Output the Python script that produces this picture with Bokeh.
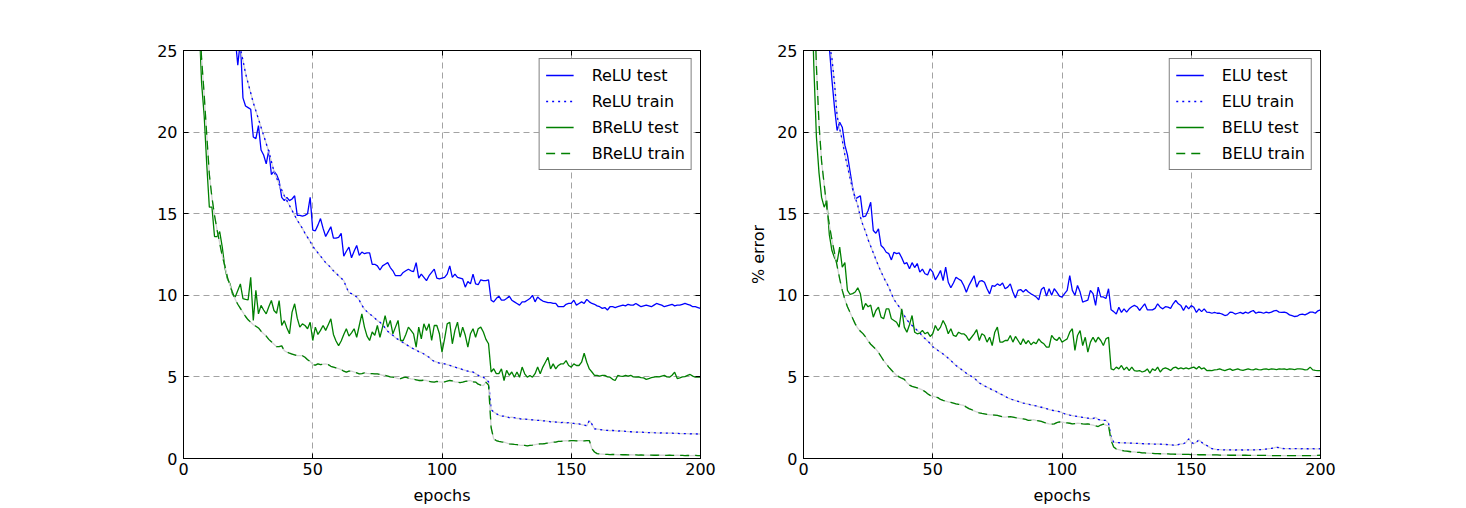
from bokeh.plotting import figure
from bokeh.layouts import row
from bokeh.models import (Range1d, FixedTicker, LinearAxis, Legend, LegendItem,
                          CustomJSTickFormatter)
from bokeh.embed import file_html
from bokeh.resources import INLINE

epochs = list(range(1, 201))
x_ticks = [0, 50, 100, 150, 200]
y_ticks = [0, 5, 10, 15, 20, 25]

relu_test = [
    80, 65, 55, 48, 44, 40, 38, 36, 34, 33,
    32, 31, 30, 29.5, 29, 28.5, 28, 27, 26.5, 25.8,
    24.1, 25.6, 22.1, 21.6, 21.5, 21.4, 19.7, 19.6, 20.4, 18.9,
    18.6, 18.05, 18.9, 17.4, 17.6, 17.4, 17.0, 16.0, 15.8, 16.0,
    15.8, 15.9, 16.1, 14.9, 14.9, 14.85, 14.9, 15.0, 16.0, 14.0,
    13.95, 14.3, 14.7, 14.1, 13.6, 13.9, 14.2, 13.5, 13.5, 13.55,
    13.8, 12.4, 12.7, 12.95, 12.3, 12.7, 13.05, 12.45, 12.65, 12.55,
    12.6, 12.6, 11.9, 11.9, 11.8, 11.55, 11.8, 11.9, 12.0, 11.7,
    11.5, 11.2, 11.2, 11.2, 11.4, 11.5, 11.6, 11.5, 11.45, 12.0,
    11.05, 11.3, 11.1, 10.9, 11.2, 11.4, 11.6, 11.05, 11.0, 11.05,
    11.1, 11.3, 11.8, 11.1, 11.3, 11.1, 11.05, 11.0, 10.5, 10.85,
    10.7, 11.3, 10.7, 10.65, 10.95, 10.9, 10.9, 10.95, 9.7, 9.6,
    9.8, 9.95, 9.7, 9.7, 9.8, 9.95, 9.7, 9.6, 9.5, 9.4,
    9.6, 9.6, 9.7, 9.8, 10.0, 9.6, 9.9, 9.75, 9.65, 9.6,
    9.55, 9.55, 9.5, 9.5, 9.3, 9.3, 9.3, 9.45, 9.5, 9.5,
    9.7, 9.4, 9.5, 9.6, 9.5, 9.75, 9.6, 9.5, 9.45, 9.35,
    9.3, 9.2, 9.25, 9.1, 9.3, 9.3, 9.25, 9.3, 9.35, 9.4,
    9.35, 9.45, 9.4, 9.4, 9.5, 9.4, 9.3, 9.35, 9.4, 9.35,
    9.3, 9.4, 9.5, 9.45, 9.4, 9.3, 9.35, 9.4, 9.45, 9.35,
    9.4, 9.4, 9.45, 9.5, 9.45, 9.4, 9.3, 9.3, 9.25, 9.2,
]

relu_train = [
    85, 70, 60, 53, 48, 44, 41, 38.5, 36.5, 35,
    33.5, 32.3, 31.2, 30.2, 29.3, 28.5, 27.8, 27.1, 26.5, 25.9,
    25.5, 25.1, 24.4, 23.6, 23.0, 22.4, 21.8, 21.3, 20.8, 20.3,
    19.8, 19.3, 18.8, 18.2, 17.6, 17.2, 16.8, 16.45, 16.1, 15.8,
    15.5, 15.2, 14.9, 14.6, 14.35, 14.1, 13.8, 13.55, 13.3, 13.0,
    12.8, 12.6, 12.4, 12.2, 12.0, 11.85, 11.7, 11.5, 11.35, 11.2,
    11.05, 10.9, 10.5, 10.15, 10.1, 10.0, 9.9, 9.7, 9.4, 9.15,
    9.0, 8.85, 8.75, 8.6, 8.45, 8.35, 8.2, 8.0, 7.8, 7.65,
    7.55, 7.4, 7.3, 7.2, 7.1, 7.0, 6.9, 6.8, 6.72, 6.65,
    6.55, 6.5, 6.4, 6.3, 6.2, 6.05, 5.95, 5.9, 5.85, 5.85,
    5.8, 5.75, 5.7, 5.65, 5.6, 5.55, 5.5, 5.45, 5.4, 5.35,
    5.3, 5.3, 5.2, 5.1, 5.0, 4.98, 4.85, 4.7, 3.0, 2.85,
    2.75, 2.65, 2.6, 2.6, 2.55, 2.5, 2.53, 2.5, 2.45, 2.45,
    2.4, 2.42, 2.4, 2.38, 2.37, 2.35, 2.33, 2.35, 2.3, 2.3,
    2.28, 2.25, 2.27, 2.23, 2.22, 2.2, 2.22, 2.18, 2.2, 2.15,
    2.15, 2.12, 2.12, 2.08, 2.05, 2.0, 2.33, 2.1, 1.82, 1.8,
    1.78, 1.75, 1.72, 1.72, 1.7, 1.72, 1.7, 1.68, 1.7, 1.68,
    1.66, 1.65, 1.64, 1.63, 1.62, 1.61, 1.62, 1.6, 1.6, 1.58,
    1.6, 1.58, 1.57, 1.56, 1.57, 1.55, 1.56, 1.55, 1.55, 1.54,
    1.55, 1.53, 1.53, 1.52, 1.52, 1.51, 1.52, 1.51, 1.5, 1.5,
]

brelu_test = [
    75, 55, 45, 38, 32, 27, 23.0, 21.0, 18.0, 15.4,
    15.4, 13.6, 13.6, 13.9, 12.95, 11.7, 11.0, 10.7, 10.05, 9.9,
    10.3, 10.7, 9.8, 9.75, 9.72, 11.1, 8.46, 10.3, 8.86, 9.38,
    9.1, 8.86, 9.3, 9.68, 9.07, 8.9, 9.68, 8.15, 8.45, 8.0,
    7.64, 8.97, 9.48, 8.6, 8.05, 8.25, 8.15, 7.95, 8.35, 7.23,
    8.05, 7.6, 7.85, 8.15, 7.85, 8.2, 8.56, 7.6, 7.2, 6.92,
    7.2, 7.6, 7.95, 7.5, 7.7, 7.95, 7.43, 8.15, 8.86, 8.05,
    7.5, 7.23, 7.75, 7.55, 8.15, 7.43, 8.05, 8.76, 8.05, 8.46,
    7.64, 8.05, 8.46, 7.23, 7.23, 7.6, 8.05, 7.85, 7.64, 6.82,
    8.05, 7.33, 8.25, 7.85, 8.25, 7.23, 8.15, 8.15, 7.64, 6.52,
    7.33, 8.25, 8.35, 7.03, 7.85, 8.35, 7.43, 8.05, 7.55, 6.82,
    7.64, 7.95, 7.43, 7.95, 8.05, 7.75, 7.3, 7.03, 5.3, 5.5,
    5.2, 5.2, 5.49, 4.78, 5.4, 5.1, 5.3, 4.98, 5.3, 4.98,
    5.6, 5.19, 4.98, 5.09, 4.98, 5.2, 5.6, 5.19, 5.6, 5.9,
    6.2, 5.49, 5.8, 5.49, 5.7, 5.8, 5.8, 6.0, 5.7, 5.6,
    5.8, 5.7, 5.7, 5.9, 6.45, 5.9, 5.49, 5.3, 5.09, 5.09,
    5.05, 5.09, 5.09, 5.0, 4.98, 4.85, 4.78, 5.09, 5.05, 5.03,
    5.09, 5.05, 5.1, 5.0, 4.98, 5.0, 4.95, 4.94, 4.85, 4.9,
    4.95, 4.98, 5.02, 5.0, 5.05, 5.09, 5.0, 4.98, 5.1, 5.29,
    4.9, 4.94, 5.0, 5.02, 5.09, 5.15, 5.05, 4.98, 5.0, 4.98,
]

brelu_train = [
    70, 52, 42, 36, 31, 27.5, 24.5, 22.3, 19.8, 17.4,
    16.0, 14.9, 14.0, 13.2, 12.4, 11.8, 11.1, 10.6, 10.15, 9.75,
    9.45, 9.2, 8.95, 8.7, 8.5, 8.35, 8.2, 8.1, 8.0, 7.8,
    7.64, 7.5, 7.3, 7.15, 7.0, 6.85, 6.85, 6.9, 6.6, 6.52,
    6.45, 6.4, 6.35, 6.3, 6.3, 6.3, 6.2, 6.05, 5.95, 5.75,
    5.72, 5.8, 5.75, 5.78, 5.8, 5.75, 5.65, 5.6, 5.55, 5.5,
    5.45, 5.35, 5.29, 5.35, 5.35, 5.3, 5.25, 5.19, 5.2, 5.25,
    5.22, 5.2, 5.2, 5.19, 5.19, 5.15, 5.1, 5.09, 5.05, 5.0,
    4.98, 4.95, 4.9, 4.9, 4.95, 4.98, 4.92, 4.88, 4.86, 4.82,
    4.78, 4.78, 4.8, 4.78, 4.72, 4.7, 4.68, 4.72, 4.7, 4.68,
    4.7, 4.74, 4.78, 4.75, 4.7, 4.68, 4.65, 4.68, 4.72, 4.75,
    4.78, 4.7, 4.68, 4.55, 4.5, 4.47, 4.68, 4.5, 1.9, 1.2,
    1.1, 1.05, 1.02, 1.0, 0.95, 0.9, 0.88, 0.86, 0.85, 0.82,
    0.8, 0.8, 0.78, 0.8, 0.82, 0.85, 0.88, 0.9, 0.9, 0.92,
    0.95, 0.97, 1.0, 1.0, 1.05, 1.05, 1.08, 1.1, 1.08, 1.1,
    1.1, 1.08, 1.1, 1.1, 1.08, 1.1, 1.1, 0.6, 0.4, 0.3,
    0.28, 0.27, 0.25, 0.25, 0.24, 0.25, 0.24, 0.23, 0.24, 0.23,
    0.23, 0.22, 0.23, 0.22, 0.22, 0.21, 0.22, 0.21, 0.21, 0.2,
    0.21, 0.2, 0.2, 0.21, 0.2, 0.2, 0.19, 0.2, 0.19, 0.19,
    0.2, 0.19, 0.19, 0.18, 0.19, 0.18, 0.18, 0.19, 0.18, 0.18,
]

elu_test = [
    65, 52, 44, 39, 35, 32, 30, 28, 26.5, 25.2,
    23.2, 21.5, 20.1, 20.6, 20.3, 19.2, 18.6, 17.6, 16.6, 15.9,
    16.0, 16.1, 14.8, 14.85, 15.2, 15.7, 13.97, 13.8, 14.07, 13.05,
    12.9, 12.64, 12.55, 12.17, 12.64, 12.55, 12.6, 12.3, 11.93, 12.0,
    11.62, 12.0, 11.7, 11.95, 11.42, 11.6, 11.32, 11.25, 11.62, 11.42,
    10.95, 11.2, 11.52, 10.9, 11.72, 10.8, 10.46, 10.75, 11.11, 11.0,
    10.9, 10.6, 10.19, 10.6, 10.9, 11.2, 10.5, 10.85, 10.9, 10.8,
    10.4, 10.09, 10.6, 10.55, 10.7, 10.6, 10.75, 10.4, 10.5, 10.7,
    10.2, 9.84, 10.3, 10.35, 10.2, 10.35, 10.2, 10.09, 10.0, 9.9,
    9.72, 10.35, 10.5, 9.95, 10.4, 10.0, 10.4, 10.2, 9.95, 9.89,
    10.1, 10.3, 11.2, 10.3, 10.0, 10.6, 10.2, 9.58, 9.65, 9.7,
    10.3, 10.1, 9.38, 10.5, 9.9, 9.9, 9.8, 10.4, 9.11, 9.0,
    8.86, 9.27, 8.95, 9.17, 8.97, 9.17, 9.3, 9.38, 9.3, 9.07,
    9.27, 9.48, 9.11, 9.11, 9.11, 9.2, 9.48, 9.27, 9.17, 9.3,
    9.27, 9.2, 9.48, 9.68, 9.48, 9.37, 9.07, 9.37, 9.17, 9.37,
    9.27, 8.95, 9.17, 9.0, 9.17, 8.97, 8.95, 8.9, 8.95, 8.9,
    8.9, 8.85, 8.76, 8.8, 8.97, 8.95, 8.85, 8.9, 8.95, 8.88,
    8.97, 8.9, 9.0, 9.07, 8.9, 8.97, 8.95, 8.9, 8.97, 8.92,
    8.97, 9.05, 9.07, 8.97, 8.95, 8.97, 8.92, 8.8, 8.75, 8.7,
    8.72, 8.82, 8.85, 8.8, 8.88, 8.97, 8.97, 8.9, 9.05, 9.11,
]

elu_train = [
    80, 62, 50, 43, 38, 34, 31, 28.8, 26.8, 25.4,
    24.5, 23.0, 21.0, 20.2, 19.5, 18.6, 17.9, 17.2, 16.5, 16.0,
    15.5, 14.8, 14.3, 13.9, 13.4, 13.0, 12.6, 12.2, 11.8, 11.45,
    11.1, 10.8, 10.5, 10.1, 9.75, 9.5, 9.3, 9.05, 8.75, 8.5,
    8.3, 8.15, 8.0, 7.85, 7.7, 7.5, 7.35, 7.2, 7.05, 6.85,
    6.75, 6.62, 6.52, 6.4, 6.28, 6.15, 6.0, 5.85, 5.7, 5.58,
    5.47, 5.35, 5.22, 5.12, 5.03, 4.95, 4.78, 4.62, 4.55, 4.45,
    4.37, 4.3, 4.2, 4.15, 4.05, 3.96, 3.9, 3.8, 3.72, 3.65,
    3.6, 3.55, 3.5, 3.45, 3.4, 3.36, 3.33, 3.28, 3.25, 3.22,
    3.17, 3.14, 3.1, 3.05, 3.0, 2.96, 2.93, 2.9, 2.87, 2.82,
    2.74, 2.7, 2.66, 2.63, 2.6, 2.57, 2.55, 2.52, 2.5, 2.47,
    2.43, 2.45, 2.52, 2.4, 2.35, 2.33, 2.33, 2.15, 1.3, 1.0,
    0.98, 0.97, 0.96, 0.96, 0.95, 0.95, 0.94, 0.93, 0.93, 0.92,
    0.91, 0.9, 0.9, 0.9, 0.89, 0.88, 0.9, 0.88, 0.87, 0.86,
    0.85, 0.84, 0.82, 0.8, 0.85, 0.9, 0.9, 1.0, 1.2, 1.0,
    0.9, 1.0, 1.14, 1.0, 0.85, 0.8, 0.7, 0.6, 0.58, 0.55,
    0.54, 0.53, 0.53, 0.52, 0.53, 0.53, 0.52, 0.53, 0.53, 0.52,
    0.53, 0.53, 0.52, 0.53, 0.53, 0.54, 0.55, 0.56, 0.58, 0.6,
    0.62, 0.65, 0.69, 0.66, 0.62, 0.6, 0.6, 0.6, 0.59, 0.6,
    0.6, 0.59, 0.6, 0.59, 0.6, 0.59, 0.6, 0.59, 0.59, 0.6,
]

belu_test = [
    60, 40, 30, 24.0, 19.7, 17.5, 16.0, 15.4, 15.8, 13.7,
    12.74, 12.3, 12.03, 12.95, 11.72, 12.0, 10.3, 10.05, 10.1, 10.2,
    10.46, 10.1, 9.11, 9.5, 9.3, 9.4, 8.66, 9.07, 9.27, 8.66,
    8.56, 9.17, 9.17, 8.56, 8.46, 8.35, 8.05, 9.17, 8.05, 7.74,
    8.2, 8.76, 7.74, 7.64, 7.68, 7.85, 7.64, 7.74, 7.48, 7.64,
    8.15, 7.84, 8.05, 8.46, 8.15, 7.64, 7.95, 7.54, 7.48, 7.74,
    7.64, 7.64, 7.5, 7.23, 7.43, 7.64, 7.9, 7.23, 7.64, 7.54,
    7.13, 7.43, 6.92, 7.74, 8.05, 7.13, 7.13, 7.23, 7.23, 7.54,
    7.13, 7.48, 7.23, 6.97, 7.33, 7.03, 7.23, 6.97, 7.13, 7.03,
    7.33, 7.13, 7.03, 6.82, 6.82, 7.54, 7.33, 7.23, 7.43, 7.13,
    7.23, 7.33, 7.74, 7.95, 6.62, 7.54, 7.84, 6.92, 7.43, 6.52,
    7.13, 7.43, 7.13, 7.43, 7.23, 6.92, 7.33, 7.43, 5.49, 5.43,
    5.6, 5.49, 5.7, 5.43, 5.6, 5.39, 5.6, 5.39, 5.35, 5.39,
    5.3, 5.35, 5.49, 5.23, 5.49, 5.39, 5.6, 5.3, 5.49, 5.55,
    5.49, 5.39, 5.55, 5.6, 5.49, 5.55, 5.49, 5.55, 5.49, 5.55,
    5.6, 5.49, 5.64, 5.49, 5.55, 5.39, 5.4, 5.39, 5.43, 5.45,
    5.49, 5.43, 5.39, 5.45, 5.49, 5.4, 5.45, 5.49, 5.43, 5.4,
    5.45, 5.49, 5.45, 5.43, 5.49, 5.45, 5.43, 5.47, 5.49, 5.45,
    5.49, 5.47, 5.45, 5.49, 5.47, 5.49, 5.45, 5.49, 5.47, 5.45,
    5.49, 5.49, 5.47, 5.43, 5.45, 5.6, 5.43, 5.4, 5.39, 5.39,
]

belu_train = [
    70, 48, 36, 29, 24.0, 20.5, 18.2, 16.8, 15.4, 14.3,
    13.4, 12.6, 11.8, 11.0, 10.3, 9.75, 9.3, 8.95, 8.6, 8.25,
    7.98, 7.8, 7.65, 7.45, 7.2, 7.0, 6.85, 6.7, 6.5, 6.25,
    6.0, 5.8, 5.6, 5.42, 5.25, 5.09, 5.0, 4.92, 4.85, 4.65,
    4.5, 4.42, 4.38, 4.33, 4.27, 4.2, 4.1, 3.97, 3.87, 3.82,
    3.77, 3.73, 3.62, 3.56, 3.52, 3.47, 3.44, 3.4, 3.35, 3.32,
    3.28, 3.25, 3.15, 3.06, 3.0, 2.92, 2.85, 2.8, 2.76, 2.73,
    2.7, 2.68, 2.67, 2.66, 2.64, 2.6, 2.55, 2.53, 2.55, 2.57,
    2.54, 2.5, 2.48, 2.45, 2.43, 2.4, 2.33, 2.35, 2.38, 2.33,
    2.3, 2.27, 2.22, 2.16, 2.12, 2.1, 2.12, 2.2, 2.24, 2.23,
    2.2, 2.18, 2.16, 2.12, 2.14, 2.16, 2.15, 2.12, 2.1, 2.12,
    2.08, 2.05, 2.0, 1.96, 2.05, 2.1, 2.05, 2.0, 1.1, 0.7,
    0.58, 0.55, 0.5, 0.47, 0.45, 0.43, 0.41, 0.4, 0.38, 0.37,
    0.35, 0.34, 0.33, 0.32, 0.31, 0.3, 0.3, 0.29, 0.29, 0.28,
    0.28, 0.27, 0.27, 0.26, 0.26, 0.26, 0.25, 0.25, 0.25, 0.24,
    0.24, 0.24, 0.23, 0.23, 0.23, 0.22, 0.22, 0.22, 0.22, 0.22,
    0.21, 0.21, 0.21, 0.21, 0.2, 0.2, 0.2, 0.2, 0.2, 0.2,
    0.2, 0.19, 0.19, 0.19, 0.19, 0.19, 0.19, 0.19, 0.19, 0.18,
    0.18, 0.18, 0.18, 0.18, 0.18, 0.18, 0.18, 0.18, 0.18, 0.18,
    0.18, 0.18, 0.18, 0.18, 0.18, 0.18, 0.18, 0.18, 0.19, 0.2,
]

FONT = "DejaVu Sans"
BLUE = "#0000ff"
GREEN = "#008000"
UNDER = "#d2d2d2"


def style_axis(ax):
    ax.major_tick_in = 5
    ax.major_tick_out = 0
    ax.minor_tick_in = 0
    ax.minor_tick_out = 0
    ax.axis_line_color = "black"
    ax.axis_line_width = 1
    ax.major_tick_line_color = "black"
    ax.major_label_text_font = FONT
    ax.major_label_text_font_size = "16px"
    ax.major_label_text_color = "black"
    ax.axis_label_text_font = FONT
    ax.axis_label_text_font_size = "16px"
    ax.axis_label_text_font_style = "normal"
    ax.axis_label_text_color = "black"


def style_legend(legend):
    legend.location = "top_right"
    legend.margin = 8
    legend.padding = 6
    legend.spacing = 6
    legend.label_height = 20
    legend.glyph_height = 20
    legend.glyph_width = 28
    legend.label_standoff = 18
    legend.label_text_font = FONT
    legend.label_text_font_size = "16px"
    legend.label_text_color = "black"
    legend.border_line_color = "black"
    legend.border_line_width = 1
    legend.background_fill_color = "white"
    legend.background_fill_alpha = 1.0


def make_panel(width, left, right, ylabel, names, test_a, train_a, test_b, train_b):
    p = figure(width=width, height=508, x_range=Range1d(0, 200), y_range=Range1d(0, 25),
               output_backend="svg", toolbar_location=None,
               min_border_left=left, min_border_right=right,
               min_border_top=50, min_border_bottom=50)
    p.background_fill_color = "white"
    p.border_fill_color = "white"
    p.outline_line_color = "black"
    p.outline_line_width = 1

    p.xaxis.ticker = FixedTicker(ticks=x_ticks)
    p.yaxis.ticker = FixedTicker(ticks=y_ticks)
    for ax in list(p.xaxis) + list(p.yaxis):
        style_axis(ax)
    p.xaxis.major_label_standoff = 4
    p.xaxis.axis_label = "epochs"
    p.xaxis.axis_label_standoff = 8
    p.yaxis.major_label_standoff = 6
    if ylabel:
        p.yaxis.axis_label = ylabel
        p.yaxis.axis_label_standoff = 6

    blank = CustomJSTickFormatter(code="return ''")
    top = LinearAxis(ticker=FixedTicker(ticks=x_ticks), formatter=blank)
    rgt = LinearAxis(ticker=FixedTicker(ticks=y_ticks), formatter=blank)
    for ax in (top, rgt):
        style_axis(ax)
        ax.major_label_text_font_size = "1px"
        ax.major_label_standoff = 0
    p.add_layout(top, "above")
    p.add_layout(rgt, "right")

    for g in (p.xgrid, p.ygrid):
        g.grid_line_color = "#8c8c8c"
        g.grid_line_width = 0.8
        g.grid_line_dash = "6 4"
    p.xgrid.ticker = FixedTicker(ticks=x_ticks)
    p.ygrid.ticker = FixedTicker(ticks=y_ticks)

    r1 = p.line(epochs, test_a, line_color=BLUE, line_width=1.3)
    p.line(epochs, train_a, line_color=UNDER, line_width=1.3)
    r2 = p.line(epochs, train_a, line_color=BLUE, line_width=1.3, line_dash="2 4")
    r3 = p.line(epochs, test_b, line_color=GREEN, line_width=1.3)
    p.line(epochs, train_b, line_color=UNDER, line_width=1.3)
    r4 = p.line(epochs, train_b, line_color=GREEN, line_width=1.3, line_dash="9 6")

    legend = Legend(items=[LegendItem(label=names[0], renderers=[r1]),
                           LegendItem(label=names[1], renderers=[r2]),
                           LegendItem(label=names[2], renderers=[r3]),
                           LegendItem(label=names[3], renderers=[r4])])
    style_legend(legend)
    p.add_layout(legend)
    return p


p1 = make_panel(728, 183, 28, None,
                ["ReLU test", "ReLU train", "BReLU test", "BReLU train"],
                relu_test, relu_train, brelu_test, brelu_train)
p2 = make_panel(612, 75, 20, "% error",
                ["ELU test", "ELU train", "BELU test", "BELU train"],
                elu_test, elu_train, belu_test, belu_train)

layout = row(p1, p2)
open("out.html", "w").write(file_html(layout, INLINE))
